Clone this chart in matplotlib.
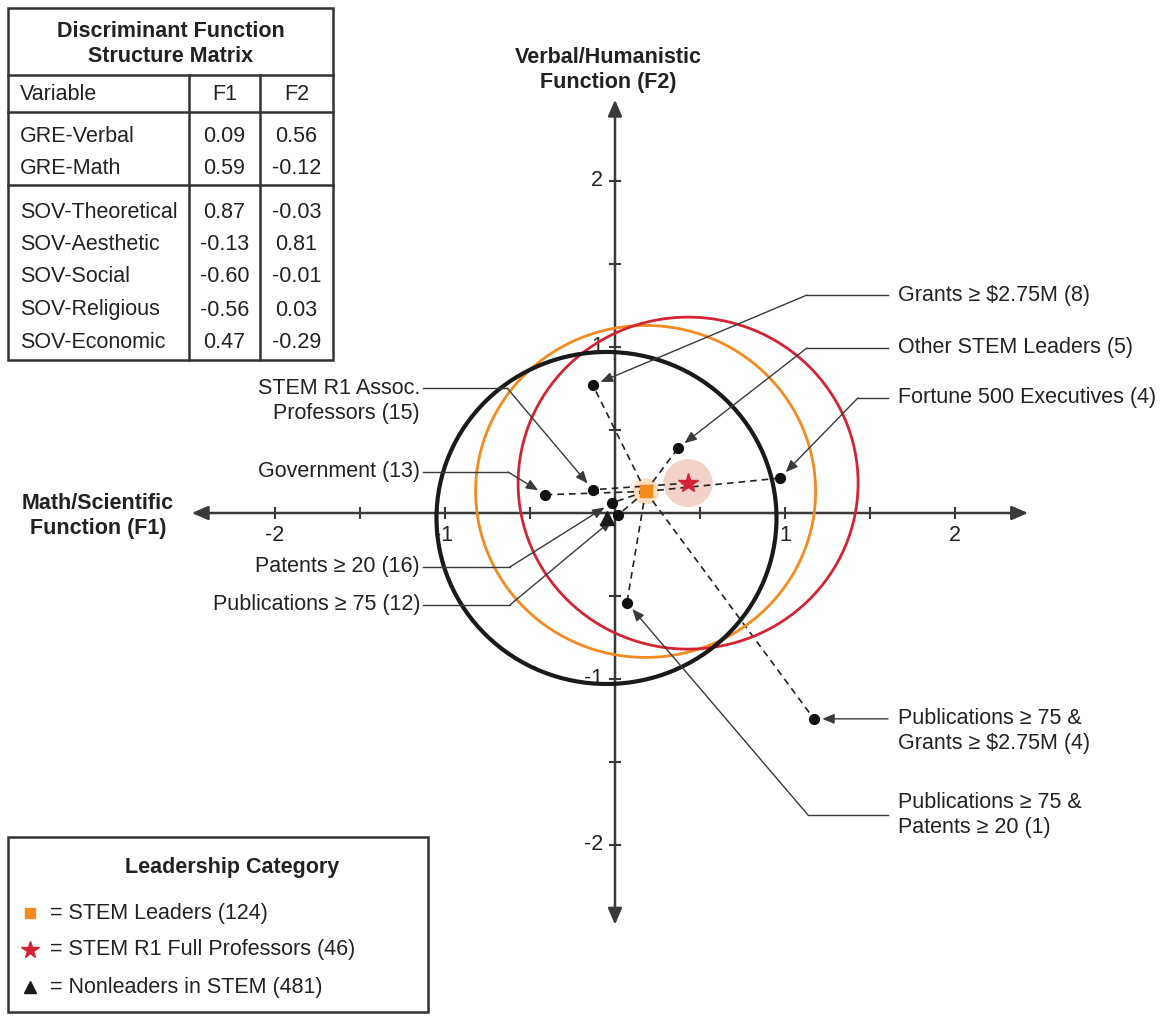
import numpy as np
import matplotlib.pyplot as plt
from matplotlib.patches import Circle, Rectangle

plt.rcParams['font.family'] = ['Liberation Sans', 'DejaVu Sans']
FS = 15.5

# Discriminant function structure matrix
variables = ['GRE-Verbal', 'GRE-Math', 'SOV-Theoretical', 'SOV-Aesthetic',
             'SOV-Social', 'SOV-Religious', 'SOV-Economic']
f1_load = [0.09, 0.59, 0.87, -0.13, -0.60, -0.56, 0.47]
f2_load = [0.56, -0.12, -0.03, 0.81, -0.01, 0.03, -0.29]

# group centroids
group_names = ['STEM Leaders (124)', 'STEM R1 Full Professors (46)', 'Nonleaders in STEM (481)']
group_f1 = [0.18, 0.43, -0.05]
group_f2 = [0.13, 0.18, -0.03]
group_colors = ['#f58a1f', '#d42433', '#1a1a1a']

# subgroups of leaders
sub_labels = ['Grants \u2265 \\$2.75M (8)', 'Other STEM Leaders (5)', 'Fortune 500 Executives (4)',
              'STEM R1 Assoc.\nProfessors (15)', 'Government (13)', 'Patents \u2265 20 (16)',
              'Publications \u2265 75 (12)', 'Publications \u2265 75 &\nGrants \u2265 \\$2.75M (4)',
              'Publications \u2265 75 &\nPatents \u2265 20 (1)']
sub_f1 = [-0.13, 0.37, 0.97, -0.13, -0.41, -0.02, 0.02, 1.17, 0.07]
sub_f2 = [0.77, 0.39, 0.21, 0.14, 0.11, 0.06, -0.01, -1.24, -0.54]
sub_group = [0, 0, 0, 1, 0, 0, 0, 0, 0]   # centroid each dashed line runs to

# label layout: (text x, text y, elbow x, elbow y, side)
label_layout = [
    (1.665, 1.313, 1.129, 1.313, 'r'),
    (1.665, 0.994, 1.129, 0.994, 'r'),
    (1.665, 0.693, 1.429, 0.693, 'r'),
    (-1.147, 0.672, -0.635, 0.753, 'l'),
    (-1.147, 0.247, -0.629, 0.247, 'l'),
    (-1.147, -0.325, -0.618, -0.325, 'l'),
    (-1.147, -0.554, -0.618, -0.554, 'l'),
    (1.665, -1.316, None, None, 'r'),
    (1.665, -1.822, 1.135, -1.819, 'r'),
]

AX = '#3a3a3a'
fig = plt.figure(figsize=(11.62, 10.17), dpi=100)
ax = fig.add_axes([0, 0, 1, 1])
ax.set_xlim(-615 / 170, 547 / 170)
ax.set_ylim(-504 / 166, 513 / 166)
ax.axis('off')

# axes with arrows
ax.annotate('', xy=(2.43, 0), xytext=(-2.49, 0),
            arrowprops=dict(arrowstyle='<|-|>,head_length=0.7,head_width=0.3', color=AX,
                            lw=1.8, mutation_scale=14, shrinkA=0, shrinkB=0))
ax.annotate('', xy=(0, 2.49), xytext=(0, -2.48),
            arrowprops=dict(arrowstyle='<|-|>,head_length=0.7,head_width=0.3', color=AX,
                            lw=1.8, mutation_scale=14, shrinkA=0, shrinkB=0))
ticks = [-2, -1.5, -1, -0.5, 0.5, 1, 1.5, 2]
for t in ticks:
    ax.plot([t, t], [-0.032, 0.032], color=AX, lw=1.5)
    ax.plot([-0.03, 0.03], [t, t], color=AX, lw=1.5)
for t, s in zip([-2, -1, 1, 2], ['-2', '-1', '1', '2']):
    ax.text(t - (0.01 if t == -1 else 0), -0.133, s, ha='center', va='center', fontsize=FS, color='#222')
for t, s in zip([2, 1, -1, -2], ['2', '1', '-1', '-2']):
    ax.text(-0.07, t, s, ha='right', va='center', fontsize=FS, color='#222')

# dashed lines from centroids to subgroups
for x, y, g in zip(sub_f1, sub_f2, sub_group):
    ax.plot([group_f1[g], x], [group_f2[g], y], color='#222', lw=1.2,
            dashes=(4, 3), zorder=3)
ax.scatter(sub_f1, sub_f2, s=50, color='#111', zorder=6)

# circles of radius 1 around group centroids
for x, y, c, lw in zip(group_f1, group_f2, group_colors, [2.0, 2.0, 3.0]):
    ax.add_patch(Circle((x, y), 1.0, fill=False, ec=c, lw=lw, zorder=4))

# halos and centroid markers
ax.add_patch(Circle((group_f1[0], group_f2[0]), 0.075, color='#fbdcc0', zorder=2))
ax.add_patch(Circle((group_f1[1], group_f2[1]), 0.14, color='#f3d2ca', zorder=2))
ax.plot(group_f1[0], group_f2[0], 's', color=group_colors[0], ms=8, zorder=7)
ax.plot(group_f1[1], group_f2[1], '*', color=group_colors[1], ms=15, zorder=7)
ax.plot(group_f1[2], group_f2[2], '^', color=group_colors[2], ms=10, zorder=7)

# labels with leader lines
arrow_kw = dict(arrowstyle='-|>,head_length=0.6,head_width=0.25', color=AX, lw=1.0,
                mutation_scale=12, shrinkA=0, shrinkB=6)
for lab, (tx, ty, ex, ey, side), px, py in zip(sub_labels, label_layout, sub_f1, sub_f2):
    if side == 'r':
        ax.text(tx, ty, lab, ha='left', va='center', fontsize=FS, color='#222',
                linespacing=1.25)
        lx = 1.606
    else:
        ax.text(tx, ty, lab, ha='right', va='center', fontsize=FS, color='#222',
                linespacing=1.25, multialignment='right')
        lx = -1.129
    if ex is None:
        ax.annotate('', xy=(px, py), xytext=(lx, py), arrowprops=arrow_kw, zorder=5)
        continue
    ax.plot([lx, ex], [ey, ey], color=AX, lw=1.0, zorder=5)
    ax.annotate('', xy=(px, py), xytext=(ex, ey), arrowprops=arrow_kw, zorder=5)

# overlay in pixel coords for table, legend, axis titles
pax = fig.add_axes([0, 0, 1, 1], facecolor='none')
pax.set_xlim(0, 1162)
pax.set_ylim(1017, 0)
pax.axis('off')

pax.text(98, 516, 'Math/Scientific\nFunction (F1)', ha='center', va='center',
         fontsize=FS, fontweight='bold', color='#222', linespacing=1.25)
pax.text(608, 70, 'Verbal/Humanistic\nFunction (F2)', ha='center', va='center',
         fontsize=FS, fontweight='bold', color='#222', linespacing=1.25)

# structure matrix table
TC = '#333333'
pax.add_patch(Rectangle((8, 8), 325, 352, fill=False, ec=TC, lw=1.8))
for yy in [75, 112, 185]:
    pax.plot([8, 333], [yy, yy], color=TC, lw=1.8)
for xx in [189, 260]:
    pax.plot([xx, xx], [75, 360], color=TC, lw=1.8)
pax.text(170.5, 44, 'Discriminant Function\nStructure Matrix', ha='center', va='center',
         fontsize=FS, fontweight='bold', color='#222', linespacing=1.2)
pax.text(20, 95, 'Variable', ha='left', va='center', fontsize=FS, color='#222')
pax.text(224.5, 95, 'F1', ha='center', va='center', fontsize=FS, color='#222')
pax.text(296.5, 95, 'F2', ha='center', va='center', fontsize=FS, color='#222')
row_y = [137, 168, 212, 245, 277, 310, 342]
for v, a, b, yy in zip(variables, f1_load, f2_load, row_y):
    pax.text(20, yy, v, ha='left', va='center', fontsize=FS, color='#222')
    pax.text(224.5, yy, f'{a:.2f}', ha='center', va='center', fontsize=FS, color='#222')
    pax.text(296.5, yy, f'{b:.2f}', ha='center', va='center', fontsize=FS, color='#222')

# legend box
pax.add_patch(Rectangle((8, 837), 420, 175, fill=False, ec=TC, lw=1.8))
pax.text(232, 868, 'Leadership Category', ha='center', va='center', fontsize=FS,
         fontweight='bold', color='#222')
leg_markers = ['s', '*', '^']
leg_sizes = [7, 13, 8]
for i, (name, m, c, ms) in enumerate(zip(group_names, leg_markers, group_colors, leg_sizes)):
    yy = 913 + i * 37
    pax.plot(30, yy, m, color=c, ms=ms)
    pax.text(50, yy, '= ' + name, ha='left', va='center', fontsize=FS, color='#222')

fig.savefig('out.png', dpi=100)
